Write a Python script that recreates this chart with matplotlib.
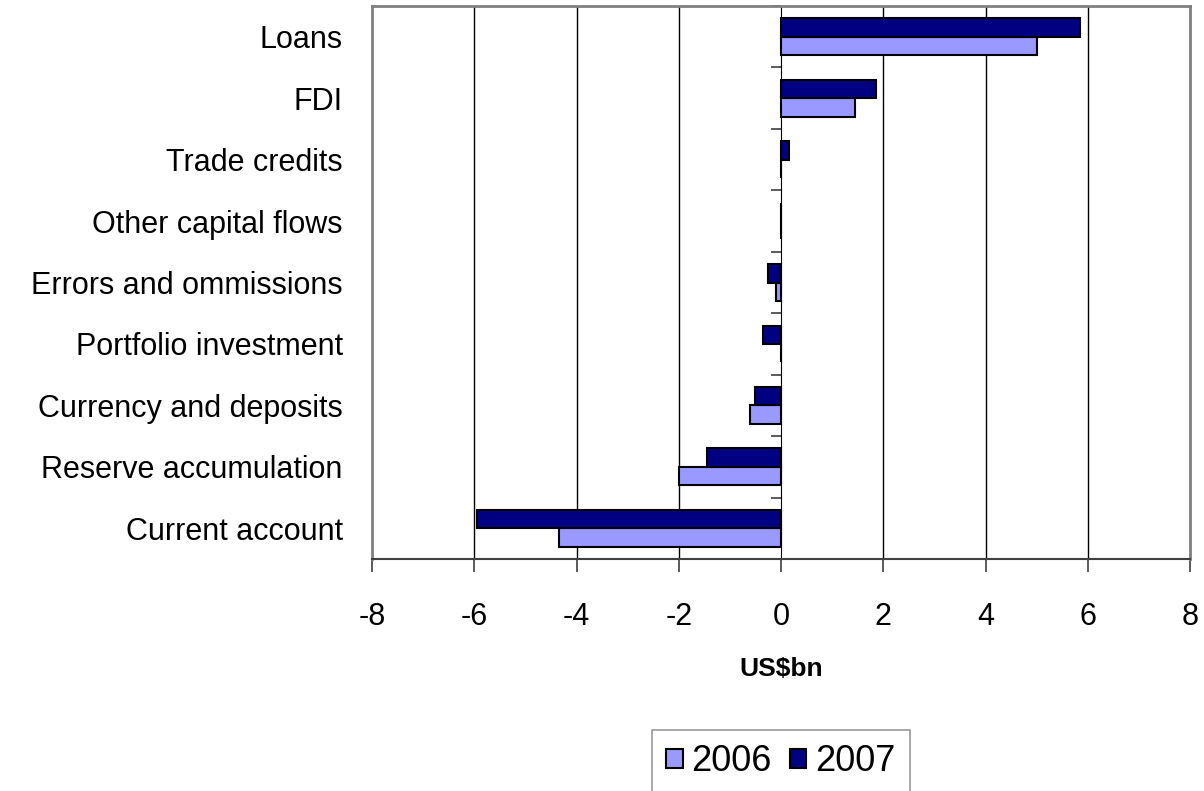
import numpy as np
import matplotlib
matplotlib.use("Agg")
import matplotlib.pyplot as plt

plt.rcParams['font.family'] = ['Liberation Sans', 'DejaVu Sans']

# capital flow components, listed bottom to top
categories = ["Current account", "Reserve accumulation", "Currency and deposits",
              "Portfolio investment", "Errors and ommissions", "Other capital flows",
              "Trade credits", "FDI", "Loans"]
flows_2006 = [-4.35, -2.0, -0.6, 0.0, -0.1, 0.0, 0.0, 1.45, 5.0]
flows_2007 = [-5.95, -1.45, -0.5, -0.35, -0.25, 0.0, 0.15, 1.85, 5.85]
x_ticks = [-8, -6, -4, -2, 0, 2, 4, 6, 8]

W, H = 1204, 791
fig = plt.figure(figsize=(W / 100, H / 100), dpi=100)
ax = fig.add_axes([372 / W, 1 - 559 / H, (1190 - 372) / W, (559 - 6) / H])

y = np.arange(len(categories))
bar_h = 0.3
ax.barh(y - bar_h / 2, flows_2006, height=bar_h, color="#9999FF",
        edgecolor="black", linewidth=1.5, label="2006", zorder=3)
ax.barh(y + bar_h / 2, flows_2007, height=bar_h, color="#000080",
        edgecolor="black", linewidth=1.5, label="2007", zorder=3)

ax.set_xlim(-8, 8)
ax.set_ylim(-0.5, len(categories) - 0.5)

# vertical gridlines
for xt in x_ticks[1:-1]:
    if xt != 0:
        ax.axvline(xt, color="black", linewidth=1, zorder=1)

# frame: gray on three sides, dark category axis at the bottom
for side in ("top", "left", "right"):
    ax.spines[side].set_color("#808080")
    ax.spines[side].set_linewidth(2)
ax.spines["bottom"].set_color("#404040")
ax.spines["bottom"].set_linewidth(1.5)

ax.set_xticks(x_ticks)
ax.set_xticklabels([str(t) for t in x_ticks], fontsize=22)
ax.tick_params(axis="x", direction="out", length=9, width=1.2,
               color="#404040", pad=22)

ax.set_yticks(y)
ax.set_yticklabels(categories, fontsize=22)
ax.tick_params(axis="y", length=0, pad=21)

# value axis through zero, ticked between categories
zero_ax = ax.secondary_yaxis(0.5)
zero_ax.set_yticks(np.arange(len(categories) + 1) - 0.5)
zero_ax.set_yticklabels([])
zero_ax.tick_params(axis="y", direction="in", length=7, width=1.2, color="#404040")
zero_ax.spines["left"].set_color("#404040")
zero_ax.spines["left"].set_linewidth(1.5)

ax.set_xlabel("US$bn", fontsize=19, fontweight="bold", labelpad=18)

leg = fig.legend(loc="upper center", bbox_to_anchor=(781 / W, 1 - 730 / H),
                 ncol=2, fontsize=26, frameon=True, fancybox=False,
                 handlelength=0.45, handleheight=0.45, handletextpad=0.25,
                 columnspacing=0.5, borderpad=0.4, borderaxespad=0)
leg.get_frame().set_edgecolor("#808080")
leg.get_frame().set_linewidth(1.2)

fig.savefig("out.png", dpi=100)
